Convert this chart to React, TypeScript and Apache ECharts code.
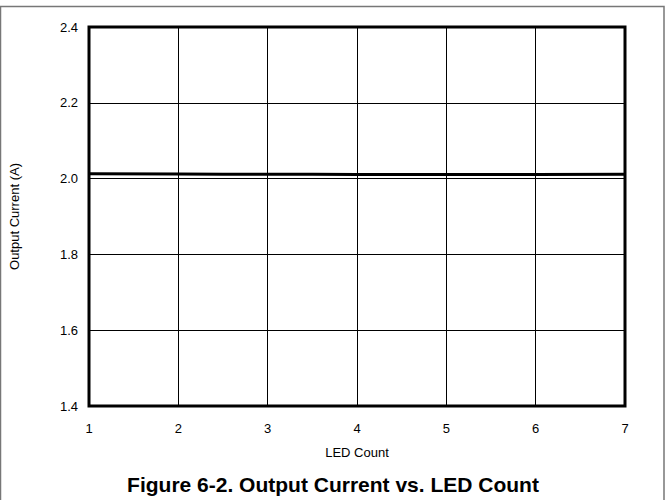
import React, { useEffect, useRef } from "react";
import * as echarts from "echarts";

const ledCount = [1, 2, 3, 4, 5, 6, 7];
const outputCurrent = [2.0125, 2.012, 2.0115, 2.011, 2.0105, 2.011, 2.0115];
const yTicks = [1.4, 1.6, 1.8, 2.0, 2.2, 2.4];

export default function App() {
  const ref = useRef<HTMLDivElement>(null);
  useEffect(() => {
    if (!ref.current) return;
    const chart = echarts.init(ref.current, null, { renderer: "svg" });
    const font = "Arial, 'Liberation Sans', sans-serif";
    chart.setOption({
      animation: false,
      backgroundColor: "#fff",
      textStyle: { fontFamily: font },
      title: {
        text: "Figure 6-2. Output Current vs. LED Count",
        left: "center",
        top: 469,
        textStyle: { fontFamily: font, fontSize: 21, fontWeight: "bold", color: "#000" },
      },
      graphic: [
        {
          type: "rect",
          shape: { x: 0.5, y: 6.5, width: 663.5, height: 510 },
          style: { fill: "none", stroke: "#777", lineWidth: 1.5 },
          silent: true,
          z: -1,
        },
      ],
      grid: {
        left: 88,
        right: 41,
        top: 27,
        bottom: 94,
        show: true,
        borderColor: "#000",
        borderWidth: 3,
        backgroundColor: "transparent",
        z: 10,
      },
      xAxis: {
        type: "value",
        min: 1,
        max: 7,
        interval: 1,
        name: "LED Count",
        nameLocation: "middle",
        nameGap: 40,
        nameTextStyle: { fontFamily: font, fontSize: 13, color: "#000" },
        axisLine: { show: false },
        axisTick: { show: false },
        axisLabel: { fontFamily: font, fontSize: 13, color: "#000", margin: 16 },
        splitLine: { show: true, lineStyle: { color: "#000", width: 1 } },
      },
      yAxis: {
        type: "value",
        min: yTicks[0],
        max: yTicks[yTicks.length - 1],
        interval: 0.2,
        name: "Output Current (A)",
        nameLocation: "middle",
        nameGap: 68,
        nameTextStyle: { fontFamily: font, fontSize: 13, color: "#000" },
        axisLine: { show: false },
        axisTick: { show: false },
        axisLabel: {
          fontFamily: font,
          fontSize: 13,
          color: "#000",
          margin: 11,
          formatter: (v: number) => v.toFixed(1),
        },
        splitLine: { show: true, lineStyle: { color: "#000", width: 1 } },
      },
      series: [
        {
          type: "line",
          data: ledCount.map((x, i) => [x, outputCurrent[i]]),
          showSymbol: false,
          smooth: true,
          lineStyle: { color: "#000", width: 3 },
          z: 5,
        },
      ],
    });
    return () => chart.dispose();
  }, []);
  return (
    <div
      ref={ref}
      style={{ position: "fixed", left: 0, top: 0, width: 666, height: 500, background: "#fff" }}
    />
  );
}
